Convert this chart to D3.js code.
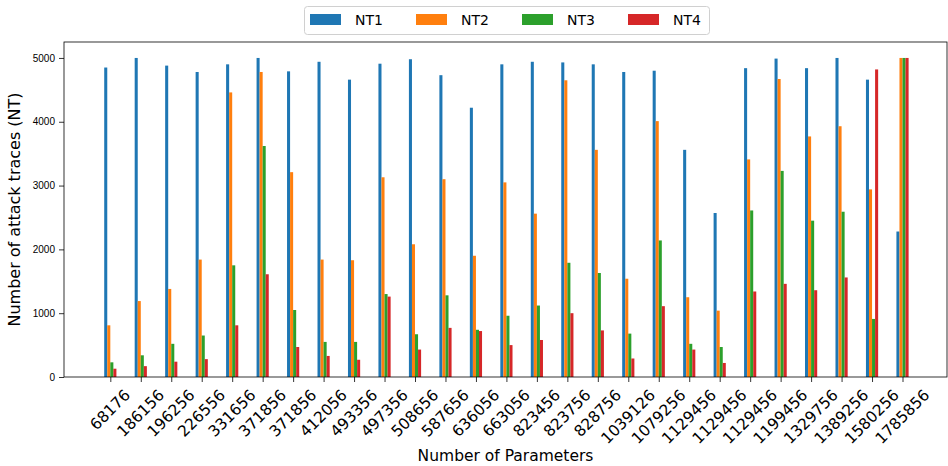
<!DOCTYPE html>
<html>
<head>
<meta charset="utf-8">
<script src="https://cdn.jsdelivr.net/npm/d3@7"></script>
<style>
  body { margin: 0; background: #fff; }
  svg { display: block; font-family: 'DejaVu Sans', sans-serif; }
</style>
</head>
<body>
<div id="chart"></div>
<script>
// Number of parameters (one group per model)
var params = ['68176', '186156', '196256', '226556', '331656', '371856', '371856', '412056',
  '493356', '497356', '508656', '587656', '636056', '663056', '823456', '823756', '828756',
  '1039126', '1079256', '1129456', '1129456', '1129456', '1199456', '1329756', '1389256',
  '1580256', '1785856'];

var seriesNames = ['NT1', 'NT2', 'NT3', 'NT4'];

var nt1 = [4850, 5000, 4880, 4780, 4900, 5000, 4790, 4940, 4660, 4910, 4980, 4730, 4220,
  4900, 4940, 4930, 4900, 4780, 4800, 3560, 2570, 4840, 4990, 4840, 5000, 4660, 2280];
var nt2 = [810, 1190, 1380, 1840, 4460, 4780, 3210, 1840, 1830, 3130, 2080, 3100, 1900,
  3050, 2560, 4650, 3560, 1540, 4010, 1250, 1040, 3410, 4670, 3770, 3930, 2940, 5000];
var nt3 = [230, 340, 520, 650, 1750, 3620, 1050, 550, 550, 1300, 670, 1280, 740,
  960, 1120, 1790, 1630, 680, 2140, 520, 470, 2610, 3230, 2450, 2590, 910, 5000];
var nt4 = [130, 170, 240, 280, 810, 1610, 470, 330, 270, 1260, 430, 770, 720,
  500, 580, 1000, 730, 290, 1110, 430, 220, 1340, 1460, 1360, 1560, 4820, 5000];

var yTicks = [0, 1000, 2000, 3000, 4000, 5000];

var colors = ['#1f77b4', '#ff7f0e', '#2ca02c', '#d62728'];

var width = 948;
var height = 466;
// plot area edges (note: "top" is taken by window.top, so prefix them)
var pLeft = 64, pRight = 947, pTop = 42, pBottom = 377;

var svg = d3.select('#chart').append('svg')
    .attr('width', width)
    .attr('height', height);

// scales: index position on x, count on y
var x = d3.scaleLinear()
    .domain([-1.52, params.length - 1 + 1.46])
    .range([pLeft, pRight]);

var y = d3.scaleLinear()
    .domain([0, 5250])
    .range([pBottom, pTop]);

var barW = 0.1; // width of one bar in category units

// bars
var series = [nt1, nt2, nt3, nt4];
series.forEach(function(vals, k) {
  svg.append('g')
      .selectAll('rect')
      .data(vals)
      .enter().append('rect')
      .attr('x', function(d, i) { return x(i - 2 * barW + k * barW); })
      .attr('y', function(d) { return y(d); })
      .attr('width', x(barW) - x(0))
      .attr('height', function(d) { return y(0) - y(d); })
      .attr('fill', colors[k]);
});

// y axis
var yAxis = svg.append('g')
    .attr('transform', 'translate(' + pLeft + ',0)')
    .call(d3.axisLeft(y).tickValues(yTicks).tickSize(5).tickPadding(4).tickFormat(d3.format('d')));
yAxis.select('.domain').remove();
yAxis.selectAll('text').style('font-size', '10px').attr('fill', '#000');
yAxis.selectAll('line').attr('stroke', '#000').attr('stroke-width', 0.8);

// x axis (ticks only, labels placed by hand so they rotate about their centre)
var xAxis = svg.append('g')
    .attr('transform', 'translate(0,' + pBottom + ')')
    .call(d3.axisBottom(x).tickValues(d3.range(params.length)).tickSize(5).tickFormat(''));
xAxis.select('.domain').remove();
xAxis.selectAll('line').attr('stroke', '#000').attr('stroke-width', 0.8);

var fs = 15.5;
svg.append('g')
    .selectAll('text')
    .data(params)
    .enter().append('text')
    .style('font-size', fs + 'px')
    .attr('text-anchor', 'middle')
    .attr('dominant-baseline', 'central')
    .text(function(d) { return d; })
    .attr('transform', function(d, i) {
      var len = this.getComputedTextLength();
      var cy = pBottom + 10 + (len + fs * 1.0) * 0.3536;
      return 'translate(' + x(i) + ',' + cy + ') rotate(-45)';
    });

// frame
svg.append('rect')
    .attr('x', pLeft)
    .attr('y', pTop)
    .attr('width', pRight - pLeft)
    .attr('height', pBottom - pTop)
    .attr('fill', 'none')
    .attr('stroke', '#000')
    .attr('stroke-width', 0.8);

// axis titles
svg.append('text')
    .attr('x', (pLeft + pRight) / 2)
    .attr('y', 461)
    .attr('text-anchor', 'middle')
    .style('font-size', '15.5px')
    .text('Number of Parameters');

svg.append('text')
    .attr('transform', 'translate(20,' + (pTop + pBottom) / 2 + ') rotate(-90)')
    .attr('text-anchor', 'middle')
    .style('font-size', '16px')
    .text('Number of attack traces (NT)');

// legend
var legend = svg.append('g');
legend.append('rect')
    .attr('x', 304.5)
    .attr('y', 6.5)
    .attr('width', 405)
    .attr('height', 28)
    .attr('rx', 3)
    .attr('fill', '#fff')
    .attr('stroke', '#d0d0d0');

var item = legend.selectAll('g.item')
    .data(seriesNames)
    .enter().append('g')
    .attr('class', 'item')
    .attr('transform', function(d, i) { return 'translate(' + (310 + i * 106) + ',0)'; });

item.append('rect')
    .attr('x', 0)
    .attr('y', 14)
    .attr('width', 31)
    .attr('height', 11)
    .attr('fill', function(d, i) { return colors[i]; });

item.append('text')
    .attr('x', 45)
    .attr('y', 25)
    .style('font-size', '14px')
    .text(function(d) { return d; });
</script>
</body>
</html>
